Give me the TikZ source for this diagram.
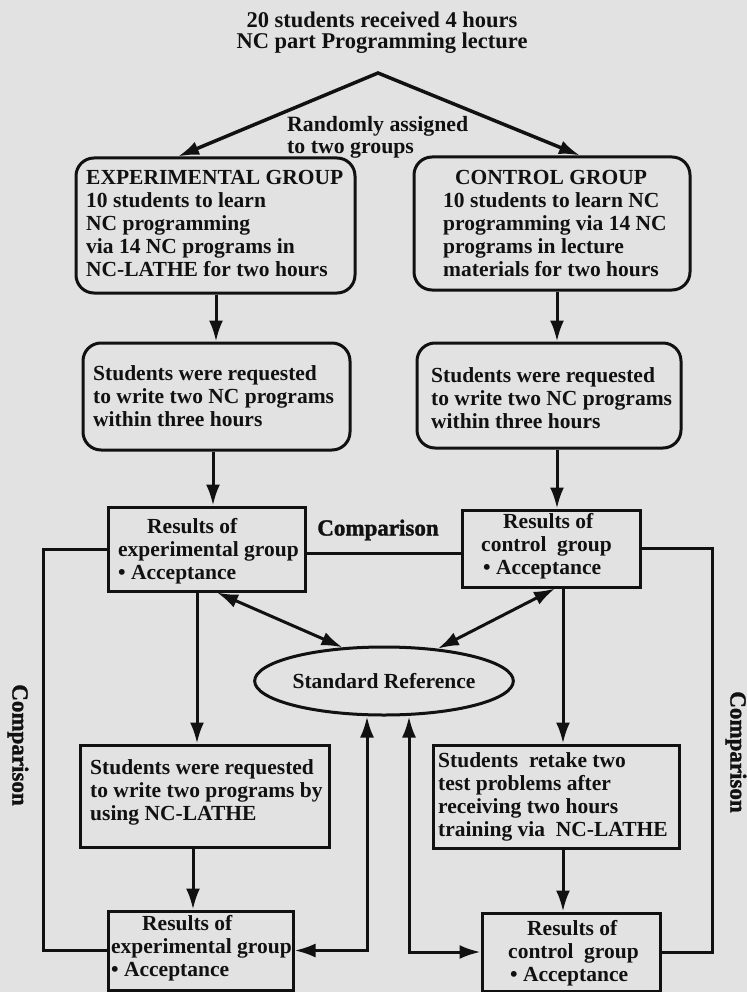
\documentclass[tikz,border=0pt]{standalone}
\usepackage{fontspec}
\setmainfont{Liberation Serif}
\newfontfamily\inkfont{Liberation Serif Bold}
\newfontfamily\inkbold{Liberation Serif Bold}[FakeBold=1.5]
\usetikzlibrary{arrows.meta,shapes.geometric}
\definecolor{paper}{RGB}{226,226,226}
\definecolor{ink}{RGB}{17,17,17}
\begin{document}
\begin{tikzpicture}[x=1pt,y=-1pt,
  every node/.style={text=ink},
  ln/.style={draw=ink,line width=3pt},
  arr/.style={ln,-{Latex[length=21pt,width=14pt]}},
  dbl/.style={ln,{Latex[length=21pt,width=14pt]}-{Latex[length=21pt,width=14pt]}},
  rbox/.style={draw=ink,line width=3pt,rounded corners=18pt,inner sep=0pt},
  sbox/.style={draw=ink,line width=3pt,inner sep=0pt},
  txt/.style={inner sep=0pt,align=left,font=\inkfont\fontsize{21.5}{23}\selectfont},
  lbl/.style={inner sep=0pt,font=\inkbold\fontsize{23}{23}\selectfont}]
\fill[paper] (0,0) rectangle (747,992);
\useasboundingbox (0,0) rectangle (747,992);

% title and split
\node[inner sep=0pt,align=center,font=\inkfont\fontsize{22.5}{21}\selectfont] (title) at (382,33) {20 students received 4 hours\\NC part Programming lecture};
\coordinate (apex) at (378,73);
\node[txt,anchor=west,font=\inkfont\fontsize{21.8}{22}\selectfont] (rand) at (287,137) {Randomly assigned\\to two groups};

% first level
\node[rbox,minimum width=279pt,minimum height=135pt] (exp) at (215.5,225.5) {};
\node[txt,anchor=west] (expt) at (86,224) {EXPERIMENTAL GROUP\\10 students to learn\\NC programming\\via 14 NC programs in\\NC-LATHE for two hours};
\node[rbox,minimum width=276pt,minimum height=133pt] (ctrl) at (552,223.5) {};
\node[txt,anchor=west] (ctrlt) at (443,224) {\hspace*{12pt}CONTROL GROUP\\10 students to learn NC\\programming via 14 NC\\programs in lecture\\materials for two hours};

% second level
\node[rbox,minimum width=267pt,minimum height=107pt] (exp2) at (216.5,396.5) {};
\node[txt,anchor=west] (exp2t) at (93,396) {Students were requested\\to write two NC programs\\within three hours};
\node[rbox,minimum width=264pt,minimum height=105pt] (ctrl2) at (549,395.5) {};
\node[txt,anchor=west] (ctrl2t) at (431,398) {Students were requested\\to write two NC programs\\within three hours};

% results
\node[sbox,minimum width=197pt,minimum height=84pt] (res1) at (206.5,549) {};
\node[txt,anchor=west] (res1t) at (118,551) {\hspace*{29pt}Results of\\experimental group\\• Acceptance};
\node[sbox,minimum width=178pt,minimum height=77pt] (res2) at (551,548.5) {};
\node[txt,anchor=west] (res2t) at (481,546) {\hspace*{22pt}Results of\\control\ \ group\\\hspace*{2pt}• Acceptance};
\node[lbl] (cmp) at (378,530) {Comparison};

\node[ellipse,draw=ink,line width=3pt,minimum width=215pt,minimum height=68pt,inner sep=0pt,font=\inkfont\fontsize{21.5}{23}\selectfont] (ell) at (384,681) {Standard Reference};

% third level
\node[sbox,minimum width=249pt,minimum height=102pt] (exp3) at (204.5,796) {};
\node[txt,anchor=west] (exp3t) at (90,792) {Students were requested\\to write two programs by\\using NC-LATHE};
\node[sbox,minimum width=246pt,minimum height=103pt] (ctrl3) at (556,796.5) {};
\node[txt,anchor=west] (ctrl3t) at (438,797) {Students\ \ retake two\\test problems after\\receiving two hours\\training via\ \ NC-LATHE};

\node[sbox,minimum width=185pt,minimum height=79pt] (res3) at (200.5,950.5) {};
\node[txt,anchor=west] (res3t) at (111,948) {\hspace*{31pt}Results of\\experimental group\\• Acceptance};
\node[sbox,minimum width=178pt,minimum height=78pt] (res4) at (571,952) {};
\node[txt,anchor=west] (res4t) at (508,953) {\hspace*{19pt}Results of\\control\ \ group\\\hspace*{2pt}• Acceptance};

\node[lbl,rotate=-90] (cmpL) at (18,745) {Comparison};
\node[lbl,rotate=-90] (cmpR) at (736,752) {Comparison};

% x positions of vertical connectors
\coordinate (x1) at (216,0);
\coordinate (x2) at (557,0);
\coordinate (x3) at (213,0);
\coordinate (x4) at (197,0);
\coordinate (x5) at (563,0);
\coordinate (x6) at (193,0);
\coordinate (lx) at (43,0);
\coordinate (rx) at (712,0);
\coordinate (u1) at (367,0);
\coordinate (u2) at (409,0);
\coordinate (aL) at (178,0);
\coordinate (aR) at (580,0);

% connectors
\draw[dbl,line width=3.5pt] (aL |- exp.north) -- (apex) -- (aR |- ctrl.north);
\draw[arr] (x1 |- exp.south) -- (x1 |- exp2.north);
\draw[arr] (x2 |- ctrl.south) -- (x2 |- ctrl2.north);
\draw[arr] (x3 |- exp2.south) -- (x3 |- res1.north);
\draw[arr] (x2 |- ctrl2.south) -- (x2 |- res2.north);
\draw[ln] ([yshift=-4pt]res1.east) -- ([yshift=-4pt]res1.east -| res2.west);
\draw[ln] (res1.west) -- (res1.west -| lx) |- (res3.west);
\draw[ln] (res2.east) -- (res2.east -| rx) |- (res4.east);
\draw[arr] (x4 |- res1.south) -- (x4 |- exp3.north);
\draw[arr] (x5 |- res2.south) -- (x5 |- ctrl3.north);
\draw[dbl] ([xshift=10.5pt]res1.south) -- (ell.141);
\draw[dbl] ([xshift=4pt]res2.south) -- (ell.31);
\draw[arr] (x6 |- exp3.south) -- (x6 |- res3.north);
\draw[arr] (x5 |- ctrl3.south) -- (x5 |- res4.north);
\draw[dbl] (res3.east) -| (u1 |- ell.south);
\draw[dbl] (res4.west) -| (u2 |- ell.south);
\end{tikzpicture}
\end{document}
